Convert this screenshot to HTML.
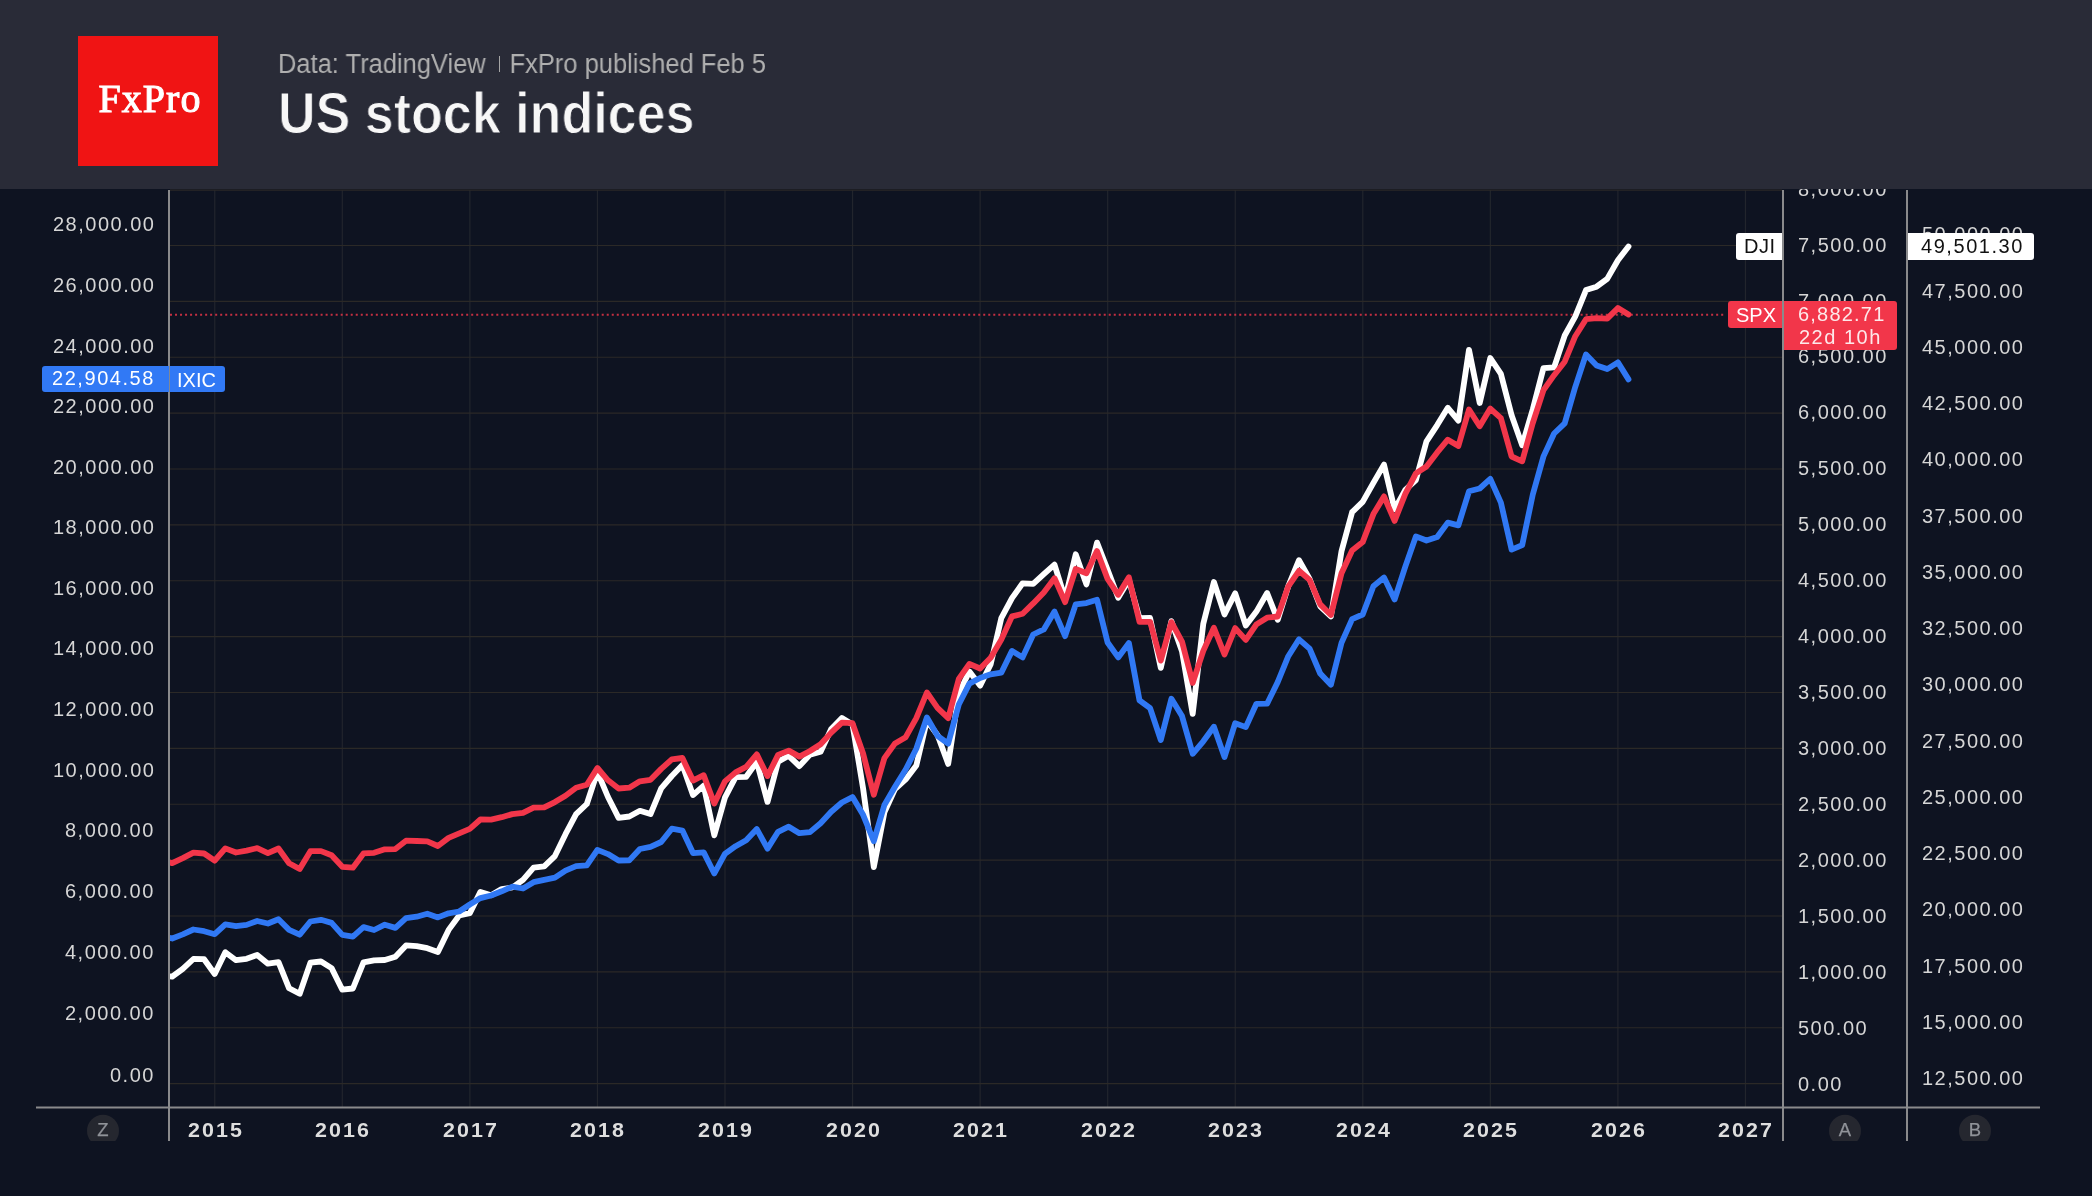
<!DOCTYPE html>
<html><head><meta charset="utf-8"><title>US stock indices</title>
<style>
html,body{margin:0;padding:0;}
body{width:2092px;height:1196px;overflow:hidden;background:#0e1321;position:relative;font-family:"Liberation Sans",sans-serif;}
.chart{position:absolute;left:0;top:0;}
.l,.yr,.tag,.bd,.sub,.ttl,.logo span{will-change:transform;}
.hdr{position:absolute;left:0;top:0;width:2092px;height:189.3px;background:#292b37;z-index:5;}
.logo{position:absolute;left:78px;top:36px;width:140px;height:130px;background:#f01414;}
.logo span{position:absolute;left:0;right:0;top:0;text-align:center;font-family:"Liberation Serif",serif;font-weight:normal;font-size:40px;color:#fff;line-height:1;-webkit-text-stroke:1.1px #fff;letter-spacing:1px;}
.sub{position:absolute;left:278px;top:50.9px;font-size:26.8px;color:#afafaf;white-space:nowrap;line-height:1;transform-origin:0 0;transform:scaleX(0.951);}
.ttl{position:absolute;left:278px;top:85px;font-size:57px;font-weight:bold;color:#f7f7f7;-webkit-text-stroke:1px #292b37;white-space:nowrap;line-height:1;transform-origin:0 0;transform:scaleX(0.913);}
.l{position:absolute;font-size:20px;color:#d6d6d6;white-space:nowrap;line-height:1;letter-spacing:1.5px;}
.lr{text-align:right;}
.yr{position:absolute;font-size:19.5px;font-weight:bold;color:#dedede;letter-spacing:1.87px;white-space:nowrap;line-height:1;width:120px;text-align:center;transform:scaleX(1.1);}
.bd{position:absolute;font-size:18.5px;font-weight:normal;color:#909399;line-height:1;width:32px;text-align:center;-webkit-text-stroke:0.25px #909399;}
.tag{position:absolute;line-height:1;white-space:nowrap;font-size:20px;letter-spacing:1.2px;}
</style></head><body>

<svg class="chart" width="2092" height="1196" viewBox="0 0 2092 1196">
<defs><clipPath id="pc"><rect x="170" y="190" width="1612" height="917"/></clipPath></defs>
<line x1="214.75" y1="190" x2="214.75" y2="1107" stroke="#22252d" stroke-width="1.2"/>
<line x1="342.31" y1="190" x2="342.31" y2="1107" stroke="#22252d" stroke-width="1.2"/>
<line x1="469.87" y1="190" x2="469.87" y2="1107" stroke="#22252d" stroke-width="1.2"/>
<line x1="597.43" y1="190" x2="597.43" y2="1107" stroke="#22252d" stroke-width="1.2"/>
<line x1="724.99" y1="190" x2="724.99" y2="1107" stroke="#22252d" stroke-width="1.2"/>
<line x1="852.55" y1="190" x2="852.55" y2="1107" stroke="#22252d" stroke-width="1.2"/>
<line x1="980.11" y1="190" x2="980.11" y2="1107" stroke="#22252d" stroke-width="1.2"/>
<line x1="1107.67" y1="190" x2="1107.67" y2="1107" stroke="#22252d" stroke-width="1.2"/>
<line x1="1235.23" y1="190" x2="1235.23" y2="1107" stroke="#22252d" stroke-width="1.2"/>
<line x1="1362.79" y1="190" x2="1362.79" y2="1107" stroke="#22252d" stroke-width="1.2"/>
<line x1="1490.35" y1="190" x2="1490.35" y2="1107" stroke="#22252d" stroke-width="1.2"/>
<line x1="1617.91" y1="190" x2="1617.91" y2="1107" stroke="#22252d" stroke-width="1.2"/>
<line x1="1745.47" y1="190" x2="1745.47" y2="1107" stroke="#22252d" stroke-width="1.2"/>
<line x1="170" y1="1083.60" x2="1782" y2="1083.60" stroke="#2b2927" stroke-width="1.2"/>
<line x1="170" y1="1027.73" x2="1782" y2="1027.73" stroke="#2b2927" stroke-width="1.2"/>
<line x1="170" y1="971.85" x2="1782" y2="971.85" stroke="#2b2927" stroke-width="1.2"/>
<line x1="170" y1="915.98" x2="1782" y2="915.98" stroke="#2b2927" stroke-width="1.2"/>
<line x1="170" y1="860.11" x2="1782" y2="860.11" stroke="#2b2927" stroke-width="1.2"/>
<line x1="170" y1="804.23" x2="1782" y2="804.23" stroke="#2b2927" stroke-width="1.2"/>
<line x1="170" y1="748.36" x2="1782" y2="748.36" stroke="#2b2927" stroke-width="1.2"/>
<line x1="170" y1="692.49" x2="1782" y2="692.49" stroke="#2b2927" stroke-width="1.2"/>
<line x1="170" y1="636.61" x2="1782" y2="636.61" stroke="#2b2927" stroke-width="1.2"/>
<line x1="170" y1="580.74" x2="1782" y2="580.74" stroke="#2b2927" stroke-width="1.2"/>
<line x1="170" y1="524.87" x2="1782" y2="524.87" stroke="#2b2927" stroke-width="1.2"/>
<line x1="170" y1="468.99" x2="1782" y2="468.99" stroke="#2b2927" stroke-width="1.2"/>
<line x1="170" y1="413.12" x2="1782" y2="413.12" stroke="#2b2927" stroke-width="1.2"/>
<line x1="170" y1="357.25" x2="1782" y2="357.25" stroke="#2b2927" stroke-width="1.2"/>
<line x1="170" y1="301.37" x2="1782" y2="301.37" stroke="#2b2927" stroke-width="1.2"/>
<line x1="170" y1="245.50" x2="1782" y2="245.50" stroke="#2b2927" stroke-width="1.2"/>
<line x1="170" y1="190.10" x2="1782" y2="190.10" stroke="#2b2927" stroke-width="1.2"/>
<line x1="170" y1="314.75" x2="1725" y2="314.75" stroke="#f2364a" stroke-width="2" stroke-dasharray="2 3.02" opacity="0.8"/>
<g clip-path="url(#pc)" fill="none" stroke-width="5.8" stroke-linejoin="round" stroke-linecap="round">
<path d="M161.5,975.5 L172.2,976.7 L182.8,968.9 L193.4,959.0 L204.1,959.2 L214.7,974.0 L225.3,952.2 L236.0,960.2 L246.6,958.8 L257.2,954.9 L267.9,963.7 L278.5,962.1 L289.1,988.3 L299.7,993.8 L310.4,962.7 L321.0,961.5 L331.6,968.1 L342.3,989.7 L352.9,988.5 L363.5,962.3 L374.1,960.3 L384.8,960.0 L395.4,956.7 L406.0,945.4 L416.7,946.2 L427.3,948.2 L437.9,952.0 L448.6,929.9 L459.2,915.5 L469.8,913.2 L480.4,891.9 L491.1,895.3 L501.7,889.0 L512.3,887.5 L523.0,879.8 L533.6,867.6 L544.2,866.4 L554.9,856.1 L565.5,834.2 L576.1,814.1 L586.8,804.0 L597.4,771.8 L608.0,797.0 L618.6,817.9 L629.3,816.5 L639.9,810.8 L650.5,814.1 L661.2,788.4 L671.8,776.0 L682.4,764.9 L693.0,795.1 L703.7,785.6 L714.3,835.3 L724.9,797.7 L735.6,777.1 L746.2,776.8 L756.8,761.9 L767.5,801.9 L778.1,761.7 L788.7,755.8 L799.4,766.1 L810.0,754.6 L820.6,751.7 L831.2,729.1 L841.9,718.1 L852.5,724.5 L863.1,788.5 L873.8,867.1 L884.4,812.4 L895.0,789.1 L905.7,779.4 L916.3,765.6 L926.9,720.5 L937.5,735.1 L948.2,763.9 L958.8,693.3 L969.4,671.6 L980.1,685.6 L990.7,664.2 L1001.3,618.1 L1012.0,598.1 L1022.6,583.3 L1033.2,583.9 L1043.8,574.2 L1054.5,564.6 L1065.1,598.7 L1075.7,554.3 L1086.4,584.4 L1097.0,542.6 L1107.6,569.8 L1118.2,597.7 L1128.9,580.0 L1139.5,618.2 L1150.1,618.0 L1160.8,667.8 L1171.4,621.2 L1182.0,651.2 L1192.7,713.9 L1203.3,623.7 L1213.9,582.0 L1224.5,614.4 L1235.2,593.3 L1245.8,625.5 L1256.4,611.6 L1267.1,593.0 L1277.7,619.8 L1288.3,586.1 L1299.0,560.2 L1309.6,579.0 L1320.2,606.3 L1330.9,616.5 L1341.5,551.3 L1352.1,512.2 L1362.7,501.9 L1373.4,482.8 L1384.0,464.6 L1394.6,509.4 L1405.3,489.8 L1415.9,480.1 L1426.5,441.3 L1437.2,425.1 L1447.8,407.8 L1458.4,420.6 L1469.0,349.8 L1479.7,403.0 L1490.3,358.0 L1500.9,373.9 L1511.6,415.2 L1522.2,445.2 L1532.8,409.2 L1543.5,368.1 L1554.1,367.3 L1564.7,335.5 L1575.3,316.3 L1586.0,290.1 L1596.6,286.7 L1607.2,278.9 L1617.9,260.2 L1628.5,246.5" stroke="#ffffff"/>
<path d="M161.5,935.9 L172.2,938.5 L182.8,934.4 L193.4,929.5 L204.1,931.2 L214.7,934.2 L225.3,924.3 L236.0,926.2 L246.6,924.9 L257.2,921.0 L267.9,923.5 L278.5,919.2 L289.1,929.9 L299.7,934.7 L310.4,921.5 L321.0,919.8 L331.6,922.9 L342.3,934.9 L352.9,936.6 L363.5,927.1 L374.1,930.0 L384.8,924.7 L395.4,927.9 L406.0,918.2 L416.7,916.7 L427.3,913.7 L437.9,917.4 L448.6,913.3 L459.2,911.5 L469.8,904.5 L480.4,898.1 L491.1,895.5 L501.7,891.3 L512.3,886.7 L523.0,888.5 L533.6,882.2 L544.2,879.8 L554.9,877.7 L565.5,870.7 L576.1,866.2 L586.8,865.3 L597.4,849.9 L608.0,854.1 L618.6,860.5 L629.3,860.4 L639.9,849.0 L650.5,846.9 L661.2,842.0 L671.8,828.7 L682.4,830.6 L693.0,853.1 L703.7,852.4 L714.3,873.5 L724.9,853.8 L735.6,846.2 L746.2,840.3 L756.8,829.1 L767.5,848.6 L778.1,831.8 L788.7,826.7 L799.4,833.2 L810.0,832.1 L820.6,823.2 L831.2,811.8 L841.9,802.5 L852.5,797.1 L863.1,814.8 L873.8,841.1 L884.4,805.0 L895.0,786.8 L905.7,769.5 L916.3,748.7 L926.9,717.4 L937.5,735.8 L948.2,743.6 L958.8,704.5 L969.4,683.6 L980.1,678.0 L990.7,674.3 L1001.3,672.7 L1012.0,650.9 L1022.6,657.4 L1033.2,634.5 L1043.8,629.4 L1054.5,611.6 L1065.1,636.2 L1075.7,604.3 L1086.4,603.1 L1097.0,599.8 L1107.6,642.5 L1118.2,657.4 L1128.9,643.1 L1139.5,700.4 L1150.1,708.1 L1160.8,740.0 L1171.4,698.7 L1182.0,716.1 L1192.7,753.8 L1203.3,741.3 L1213.9,726.7 L1224.5,757.1 L1235.2,723.2 L1245.8,727.1 L1256.4,703.8 L1267.1,703.7 L1277.7,682.1 L1288.3,656.2 L1299.0,639.3 L1309.6,648.7 L1320.2,673.5 L1330.9,684.7 L1341.5,642.9 L1352.1,619.1 L1362.7,614.5 L1373.4,586.3 L1384.0,577.5 L1394.6,599.5 L1405.3,566.7 L1415.9,536.4 L1426.5,540.5 L1437.2,537.0 L1447.8,522.6 L1458.4,525.4 L1469.0,491.3 L1479.7,488.5 L1490.3,478.9 L1500.9,502.6 L1511.6,549.6 L1522.2,545.1 L1532.8,494.5 L1543.5,456.4 L1554.1,433.5 L1564.7,423.4 L1575.3,386.8 L1586.0,354.4 L1596.6,365.4 L1607.2,369.1 L1617.9,362.4 L1628.5,379.4" stroke="#3078f4"/>
<path d="M161.5,859.7 L172.2,863.2 L182.8,858.1 L193.4,852.6 L204.1,853.5 L214.7,860.7 L225.3,848.4 L236.0,852.5 L246.6,850.6 L257.2,848.1 L267.9,853.1 L278.5,848.5 L289.1,863.2 L299.7,869.0 L310.4,851.2 L321.0,851.1 L331.6,855.2 L342.3,866.8 L352.9,867.7 L363.5,853.4 L374.1,852.8 L384.8,849.3 L395.4,849.1 L406.0,840.7 L416.7,841.0 L427.3,841.3 L437.9,846.0 L448.6,837.9 L459.2,833.4 L469.8,828.9 L480.4,819.5 L491.1,819.6 L501.7,817.2 L512.3,814.1 L523.0,812.8 L533.6,807.6 L544.2,807.4 L554.9,802.1 L565.5,795.8 L576.1,787.7 L586.8,784.8 L597.4,768.0 L608.0,780.3 L618.6,788.5 L629.3,787.7 L639.9,781.3 L650.5,779.8 L661.2,768.9 L671.8,759.4 L682.4,758.0 L693.0,780.6 L703.7,775.2 L714.3,803.5 L724.9,781.4 L735.6,772.4 L746.2,766.9 L756.8,754.4 L767.5,776.1 L778.1,754.9 L788.7,750.6 L799.4,756.6 L810.0,751.0 L820.6,744.2 L831.2,732.6 L841.9,722.6 L852.5,723.2 L863.1,753.5 L873.8,794.8 L884.4,758.1 L895.0,743.4 L905.7,737.2 L916.3,718.1 L926.9,692.5 L937.5,707.8 L948.2,718.2 L958.8,678.9 L969.4,663.9 L980.1,668.5 L990.7,657.7 L1001.3,639.6 L1012.0,616.4 L1022.6,613.8 L1033.2,603.4 L1043.8,592.4 L1054.5,578.2 L1065.1,602.2 L1075.7,569.0 L1086.4,573.3 L1097.0,551.0 L1107.6,579.0 L1118.2,594.8 L1128.9,577.3 L1139.5,621.9 L1150.1,621.8 L1160.8,660.6 L1171.4,622.1 L1182.0,641.6 L1192.7,682.9 L1203.3,650.9 L1213.9,627.7 L1224.5,654.5 L1235.2,628.1 L1245.8,639.9 L1256.4,624.4 L1267.1,617.7 L1277.7,616.5 L1288.3,586.3 L1299.0,570.8 L1309.6,579.9 L1320.2,604.4 L1330.9,615.0 L1341.5,573.2 L1352.1,550.6 L1362.7,542.1 L1373.4,514.1 L1384.0,496.4 L1394.6,520.9 L1405.3,493.9 L1415.9,473.4 L1426.5,466.5 L1437.2,452.4 L1447.8,439.7 L1458.4,446.0 L1469.0,409.5 L1479.7,426.3 L1490.3,408.6 L1500.9,418.2 L1511.6,456.5 L1522.2,461.3 L1532.8,423.0 L1543.5,390.2 L1554.1,375.2 L1564.7,361.7 L1575.3,336.2 L1586.0,319.2 L1596.6,318.2 L1607.2,318.6 L1617.9,308.1 L1628.5,314.5" stroke="#f2364a"/>
</g>
<line x1="169" y1="190" x2="169" y2="1141" stroke="#8a8a8c" stroke-width="2"/>
<line x1="1783" y1="190" x2="1783" y2="1141" stroke="#8a8a8c" stroke-width="2"/>
<line x1="1907" y1="190" x2="1907" y2="1141" stroke="#8a8a8c" stroke-width="2"/>
<line x1="36" y1="1107.5" x2="2040" y2="1107.5" stroke="#8a8a8c" stroke-width="2"/>
<clipPath id="bc"><rect x="0" y="1108" width="2092" height="33"/></clipPath>
<circle cx="103" cy="1130.7" r="16" fill="#25272f" clip-path="url(#bc)"/>
<circle cx="1845" cy="1130.7" r="16" fill="#25272f" clip-path="url(#bc)"/>
<circle cx="1975" cy="1130.7" r="16" fill="#25272f" clip-path="url(#bc)"/>
</svg>
<div class="l lr" style="right:1937px;top:1064.9px">0.00</div>
<div class="l lr" style="right:1937px;top:1003.2px">2,000.00</div>
<div class="l lr" style="right:1937px;top:941.7px">4,000.00</div>
<div class="l lr" style="right:1937px;top:880.8px">6,000.00</div>
<div class="l lr" style="right:1937px;top:820.4px">8,000.00</div>
<div class="l lr" style="right:1937px;top:759.8px">10,000.00</div>
<div class="l lr" style="right:1937px;top:699.2px">12,000.00</div>
<div class="l lr" style="right:1937px;top:638.4px">14,000.00</div>
<div class="l lr" style="right:1937px;top:577.7px">16,000.00</div>
<div class="l lr" style="right:1937px;top:517.2px">18,000.00</div>
<div class="l lr" style="right:1937px;top:456.6px">20,000.00</div>
<div class="l lr" style="right:1937px;top:396.0px">22,000.00</div>
<div class="l lr" style="right:1937px;top:336.0px">24,000.00</div>
<div class="l lr" style="right:1937px;top:274.6px">26,000.00</div>
<div class="l lr" style="right:1937px;top:213.7px">28,000.00</div>
<div class="l" style="left:1798px;top:1074.0px">0.00</div>
<div class="l" style="left:1798px;top:1018.0px">500.00</div>
<div class="l" style="left:1798px;top:962.1px">1,000.00</div>
<div class="l" style="left:1798px;top:906.1px">1,500.00</div>
<div class="l" style="left:1798px;top:850.1px">2,000.00</div>
<div class="l" style="left:1798px;top:794.2px">2,500.00</div>
<div class="l" style="left:1798px;top:738.2px">3,000.00</div>
<div class="l" style="left:1798px;top:682.2px">3,500.00</div>
<div class="l" style="left:1798px;top:626.3px">4,000.00</div>
<div class="l" style="left:1798px;top:570.3px">4,500.00</div>
<div class="l" style="left:1798px;top:514.3px">5,000.00</div>
<div class="l" style="left:1798px;top:458.4px">5,500.00</div>
<div class="l" style="left:1798px;top:402.4px">6,000.00</div>
<div class="l" style="left:1798px;top:346.4px">6,500.00</div>
<div class="l" style="left:1798px;top:290.5px">7,000.00</div>
<div class="l" style="left:1798px;top:234.5px">7,500.00</div>
<div class="l" style="left:1798px;top:178.5px">8,000.00</div>
<div class="l" style="left:1922px;top:1068.1px">12,500.00</div>
<div class="l" style="left:1922px;top:1011.9px">15,000.00</div>
<div class="l" style="left:1922px;top:955.6px">17,500.00</div>
<div class="l" style="left:1922px;top:899.4px">20,000.00</div>
<div class="l" style="left:1922px;top:843.1px">22,500.00</div>
<div class="l" style="left:1922px;top:786.9px">25,000.00</div>
<div class="l" style="left:1922px;top:730.6px">27,500.00</div>
<div class="l" style="left:1922px;top:674.4px">30,000.00</div>
<div class="l" style="left:1922px;top:618.1px">32,500.00</div>
<div class="l" style="left:1922px;top:561.9px">35,000.00</div>
<div class="l" style="left:1922px;top:505.6px">37,500.00</div>
<div class="l" style="left:1922px;top:449.3px">40,000.00</div>
<div class="l" style="left:1922px;top:393.1px">42,500.00</div>
<div class="l" style="left:1922px;top:336.8px">45,000.00</div>
<div class="l" style="left:1922px;top:280.6px">47,500.00</div>
<div class="l" style="left:1922px;top:224.3px">50,000.00</div>
<div class="yr" style="left:155.6px;top:1121px">2015</div>
<div class="yr" style="left:283.2px;top:1121px">2016</div>
<div class="yr" style="left:410.8px;top:1121px">2017</div>
<div class="yr" style="left:538.3px;top:1121px">2018</div>
<div class="yr" style="left:665.9px;top:1121px">2019</div>
<div class="yr" style="left:793.5px;top:1121px">2020</div>
<div class="yr" style="left:921.0px;top:1121px">2021</div>
<div class="yr" style="left:1048.6px;top:1121px">2022</div>
<div class="yr" style="left:1176.1px;top:1121px">2023</div>
<div class="yr" style="left:1303.7px;top:1121px">2024</div>
<div class="yr" style="left:1431.3px;top:1121px">2025</div>
<div class="yr" style="left:1558.8px;top:1121px">2026</div>
<div class="yr" style="left:1686.4px;top:1121px">2027</div>
<div class="bd" style="left:87px;top:1121px">Z</div>
<div class="bd" style="left:1829px;top:1121px">A</div>
<div class="bd" style="left:1959px;top:1121px">B</div>

<div style="position:absolute;left:42px;top:366px;width:183px;height:26px;background:#3179f5;border-radius:3px;"></div>
<div class="tag" style="left:52px;top:368px;color:#fff;letter-spacing:1.55px;">22,904.58</div>
<div class="tag" style="left:177px;top:369.5px;color:#fff;letter-spacing:0px;">IXIC</div>
<div style="position:absolute;left:168.5px;top:366px;width:1.5px;height:26px;background:#8a8a8c;opacity:0.9"></div>

<div style="position:absolute;left:1736px;top:233px;width:46px;height:27px;background:#fff;border-radius:3px 0 0 3px;"></div>
<div class="tag" style="left:1744px;top:236px;color:#111;letter-spacing:0.5px;">DJI</div>
<div style="position:absolute;left:1908px;top:233px;width:126px;height:27px;background:#fff;border-radius:0 3px 3px 0;"></div>
<div class="tag" style="left:1921px;top:236px;color:#111;letter-spacing:1.55px;">49,501.30</div>

<div style="position:absolute;left:1728px;top:301px;width:54px;height:27px;background:#f2364a;border-radius:3px 0 0 3px;"></div>
<div class="tag" style="left:1736px;top:305px;color:#fff;letter-spacing:0px;">SPX</div>
<div style="position:absolute;left:1784px;top:301px;width:113px;height:49px;background:#f2364a;border-radius:0 3px 3px 0;"></div>
<div class="tag" style="left:1798px;top:304px;color:#fde8ea;">6,882.71</div>
<div class="tag" style="left:1798.5px;top:326.5px;color:#fde8ea;letter-spacing:1.5px;">22d 10h</div>

<div class="hdr">
<div class="logo"><span style="top:43px;left:4px">FxPro</span></div>
<div class="sub">Data: TradingView<span style="display:inline-block;width:25px"></span>FxPro published Feb 5</div>
<div style="position:absolute;left:498.8px;top:55.6px;width:1.3px;height:16.3px;background:#a5a5a5"></div>
<div class="ttl">US stock indices</div>
</div>
</body></html>
